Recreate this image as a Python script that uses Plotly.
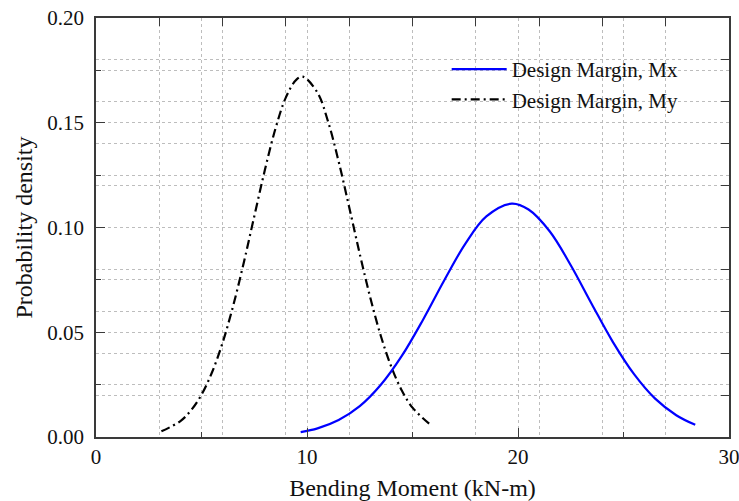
import plotly.graph_objects as go

# Design Margin, Mx
mx_x = [9.7, 10.5, 11.5, 12.5, 13.5, 14.5, 15.5, 16.5, 17.5, 18.5, 19.7,
        20.5, 21.5, 22.5, 23.5, 24.5, 25.5, 26.5, 27.5, 28.4]
mx_y = [0.0023, 0.0041, 0.0081, 0.0147, 0.0249, 0.0388, 0.0560, 0.0747, 0.0922, 0.1053, 0.1114,
        0.1086, 0.0982, 0.0820, 0.0634, 0.0453, 0.0300, 0.0183, 0.0104, 0.0058]

# Design Margin, My
my_x = [3.1, 4.0, 4.5, 5.0, 5.5, 6.0, 6.5, 7.0, 7.5, 8.0, 8.5, 9.0, 9.5, 9.8,
        10.5, 11.0, 11.5, 12.0, 12.5, 13.0, 13.5, 14.0, 14.5, 15.0, 15.9]
my_y = [0.0027, 0.0076, 0.0127, 0.0202, 0.0309, 0.0450, 0.0626, 0.0831, 0.1053, 0.1273, 0.1470, 0.1621, 0.1706, 0.1720,
        0.1643, 0.1505, 0.1315, 0.1097, 0.0874, 0.0665, 0.0482, 0.0334, 0.0221, 0.0140, 0.0054]

x_range = [0, 30]
y_range = [0, 0.20]

FONT = "Liberation Serif"
GRID = "#bdbdbd"
AXIS = "#3a3a3a"

fig = go.Figure()
fig.add_trace(go.Scatter(x=mx_x, y=mx_y, mode="lines", name="Design Margin, Mx",
                         xaxis="x2", yaxis="y2",
                         line=dict(color="#0000ff", width=2.2, shape="spline")))
fig.add_trace(go.Scatter(x=my_x, y=my_y, mode="lines", name="Design Margin, My",
                         line=dict(color="#000000", width=2.2, shape="spline", dash="9px,4px,2px,4px")))

fig.update_layout(
    width=739, height=501,
    margin=dict(l=96, r=10, t=18, b=64, autoexpand=False),
    paper_bgcolor="white", plot_bgcolor="white",
    font=dict(family=FONT, size=21, color="#111111"),
    showlegend=True,
    legend=dict(x=0.554, y=0.926, xanchor="left", yanchor="top", traceorder="normal",
                bgcolor="rgba(0,0,0,0)", font=dict(family=FONT, size=21),
                itemwidth=55, tracegroupgap=0),
    xaxis=dict(range=x_range, tickmode="linear", tick0=0, dtick=10,
               ticks="inside", ticklen=9, tickwidth=1.3, tickcolor=AXIS,
               showline=True, linecolor=AXIS, linewidth=1.6, mirror=True,
               showgrid=True, gridcolor=GRID, griddash="dot", gridwidth=1,
               zeroline=False, automargin=False, ticklabeloverflow="allow",
               minor=dict(dtick=5, ticks="inside", ticklen=5, tickcolor=AXIS,
                          showgrid=True, gridcolor=GRID, griddash="dot"),
               tickfont=dict(size=21, family=FONT),
               title=dict(text="Bending Moment (kN-m)", font=dict(size=24, family=FONT), standoff=12)),
    yaxis=dict(range=y_range, tickmode="linear", tick0=0, dtick=0.05, tickformat=".2f",
               ticks="inside", ticklen=9, tickwidth=1.3, tickcolor=AXIS,
               showline=True, linecolor=AXIS, linewidth=1.6, mirror=True,
               showgrid=True, gridcolor=GRID, griddash="dot", gridwidth=1,
               zeroline=False, automargin=False, ticklabeloverflow="allow",
               ticklabelstandoff=6,
               minor=dict(dtick=0.025, ticks="inside", ticklen=5, tickcolor=AXIS,
                          showgrid=True, gridcolor=GRID, griddash="dot"),
               tickfont=dict(size=21, family=FONT),
               title=dict(text="Probability density", font=dict(size=24, family=FONT), standoff=8)),
    xaxis2=dict(range=x_range, overlaying="x", side="top", tickmode="linear", tick0=0, dtick=3,
                ticks="inside", ticklen=8, tickwidth=1.3, tickcolor=AXIS,
                showticklabels=False, showline=False, zeroline=False, automargin=False,
                showgrid=True, gridcolor=GRID, griddash="dot", gridwidth=1),
    yaxis2=dict(range=y_range, overlaying="y", side="right", tickmode="linear", tick0=0, dtick=0.02,
                ticks="inside", ticklen=8, tickwidth=1.3, tickcolor=AXIS,
                showticklabels=False, showline=False, zeroline=False, automargin=False,
                showgrid=True, gridcolor=GRID, griddash="dot", gridwidth=1),
)

fig.write_html("out.html")
